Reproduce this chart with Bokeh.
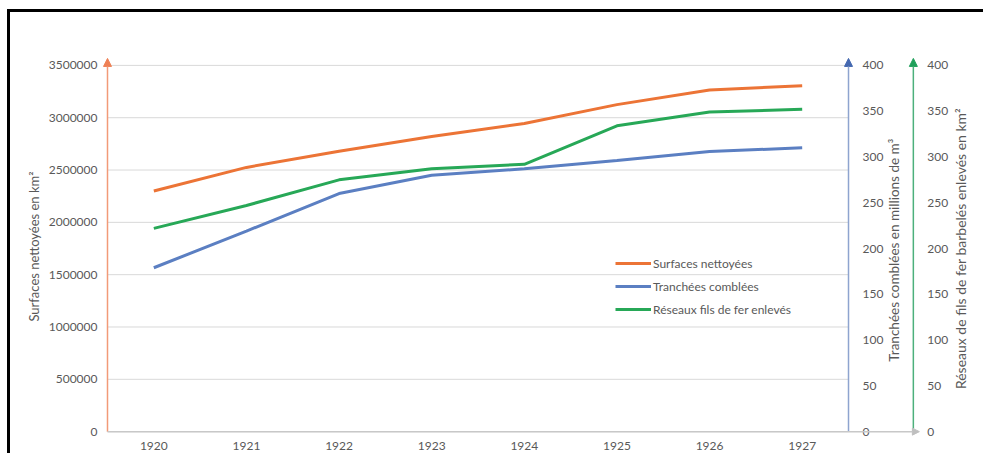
import math
from bokeh.plotting import figure
from bokeh.models import (Range1d, LinearAxis, FixedTicker, Legend, LegendItem,
                          Arrow, NormalHead, BasicTickFormatter, Label)
from bokeh.embed import file_html
from bokeh.resources import INLINE

# ---- data ----
years = [1920, 1921, 1922, 1923, 1924, 1925, 1926, 1927]
surfaces = [2300000, 2525000, 2680000, 2820000, 2945000, 3125000, 3265000, 3305000]
tranchees = [179, 219, 260, 280, 287, 296, 306, 310]
reseaux = [222, 247, 275, 287, 292, 334, 349, 352]
left_ticks = [0, 500000, 1000000, 1500000, 2000000, 2500000, 3000000, 3500000]
right_ticks = [0, 50, 100, 150, 200, 250, 300, 350, 400]

labels = ["Surfaces nettoyées", "Tranchées comblées", "Réseaux fils de fer enlevés"]
left_title = "Surfaces nettoyées en km²"
blue_title = "Tranchées comblées en  millions de m³"
green_title = "Réseaux de fils de fer barbelés enlevés en km²"

# ---- style ----
ORANGE = "#EC7436"
BLUE = "#5B7FC2"
GREEN = "#27A857"
TXT = "#595959"
GRID = "#D9D9D9"
AXGRAY = "#C8C8C8"
L_AX = "#F29A78"
B_AX = "#8EA4CF"
G_AX = "#4DB07C"
FONT = "Lato"

# layout fractions (positions, not data)
PAD_TOP = 0.027    # frame room above the top tick
TIP = 0.019        # arrow tips above the top tick
PAD_BOT = 0.016    # frame room below zero
X_PAD_L = 0.054    # frame room left of the first category
X_GREEN = 0.70     # second right axis, after the category area
X_TIP = 0.765      # x-axis arrow tip
X_BLUE_T = 0.486   # blue axis title
X_GREEN_T = 1.209  # green axis title
X_END = 1.425      # frame end

x0 = years[0] - 0.5
x_blue = years[-1] + 0.5
x_green = x_blue + X_GREEN
ltop = left_ticks[-1]
rtop = right_ticks[-1]

p = figure(width=976, height=444, output_backend="svg", toolbar_location=None,
           x_range=Range1d(x0 - X_PAD_L, x_blue + X_END),
           y_range=Range1d(-PAD_BOT * ltop, (1 + PAD_TOP) * ltop),
           min_border_left=92, min_border_right=6, min_border_top=43,
           min_border_bottom=19, margin=(12, 0, 0, 10))
p.styles = {"box-shadow": "-3px -3px 0 0 black"}
p.outline_line_color = None
p.background_fill_color = "white"
p.border_fill_color = "white"

p.extra_y_ranges = {"blue": Range1d(-PAD_BOT * rtop, (1 + PAD_TOP) * rtop),
                    "green": Range1d(-PAD_BOT * rtop, (1 + PAD_TOP) * rtop)}

# grid limited to the category area
p.xgrid.visible = False
p.ygrid.visible = False
p.segment(x0=[x0] * len(left_ticks), x1=[x_blue] * len(left_ticks),
          y0=left_ticks, y1=left_ticks, line_color=GRID, line_width=1)


def style_axis(ax, standoff):
    ax.axis_line_color = None
    ax.major_tick_line_color = None
    ax.minor_tick_line_color = None
    ax.major_tick_out = 0
    ax.major_tick_in = 0
    ax.minor_tick_out = 0
    ax.major_label_text_font = FONT
    ax.major_label_text_font_size = "12px"
    ax.major_label_text_color = TXT
    ax.major_label_standoff = standoff
    ax.axis_label_text_font = FONT
    ax.axis_label_text_font_size = "13px"
    ax.axis_label_text_font_style = "normal"
    ax.axis_label_text_color = TXT


# x axis
xa = p.xaxis[0]
xa.ticker = FixedTicker(ticks=years)
style_axis(xa, 4)

# left axis
ya = p.yaxis[0]
ya.ticker = FixedTicker(ticks=left_ticks)
ya.formatter = BasicTickFormatter(use_scientific=False)
style_axis(ya, 5)
ya.axis_label = left_title
ya.axis_label_standoff = 4

# two right axes drawn at fixed places
ba = LinearAxis(y_range_name="blue", ticker=FixedTicker(ticks=right_ticks),
                fixed_location=x_blue)
style_axis(ba, 14)
p.add_layout(ba, "right")

ga = LinearAxis(y_range_name="green", ticker=FixedTicker(ticks=right_ticks),
                fixed_location=x_green)
style_axis(ga, 14)
p.add_layout(ga, "right")

# titles of the right axes, reading upwards
for xt, txt, fs in ((x_blue + X_BLUE_T, blue_title, "13.5px"),
                    (x_blue + X_GREEN_T, green_title, "14px")):
    p.add_layout(Label(x=xt, y=rtop / 2, y_range_name="blue", text=txt,
                       angle=math.pi / 2, text_align="center", text_baseline="middle",
                       text_font=FONT, text_font_size=fs, text_color=TXT))

# series
r1 = p.line(years, surfaces, line_color=ORANGE, line_width=3)
r2 = p.line(years, tranchees, line_color=BLUE, line_width=3, y_range_name="blue")
r3 = p.line(years, reseaux, line_color=GREEN, line_width=3, y_range_name="green")

legend = Legend(items=[LegendItem(label=labels[0], renderers=[r1]),
                       LegendItem(label=labels[1], renderers=[r2]),
                       LegendItem(label=labels[2], renderers=[r3])],
                location=(513, 118))
legend.background_fill_alpha = 0
legend.border_line_alpha = 0
legend.padding = 0
legend.margin = 0
legend.spacing = 3
legend.glyph_width = 36
legend.glyph_height = 20
legend.label_height = 20
legend.label_standoff = 2
legend.label_text_font = FONT
legend.label_text_font_size = "12px"
legend.label_text_color = TXT
p.add_layout(legend, "center")

# axis lines with arrow heads
p.add_layout(Arrow(end=NormalHead(size=8, fill_color="#EE8055", line_color="#EE8055"),
                   x_start=x0, y_start=0, x_end=x0, y_end=ltop * (1 + TIP),
                   line_color=L_AX, line_width=1.5))
p.add_layout(Arrow(end=NormalHead(size=8, fill_color="#4468B0", line_color="#4468B0"),
                   x_start=x_blue, y_start=0, x_end=x_blue, y_end=rtop * (1 + TIP),
                   line_color=B_AX, line_width=1.5, y_range_name="blue"))
p.add_layout(Arrow(end=NormalHead(size=8, fill_color="#1FA05A", line_color="#1FA05A"),
                   x_start=x_green, y_start=0, x_end=x_green, y_end=rtop * (1 + TIP),
                   line_color=G_AX, line_width=1.5, y_range_name="green"))
p.add_layout(Arrow(end=NormalHead(size=7, fill_color="#BFBFBF", line_color="#BFBFBF"),
                   x_start=x0, y_start=0, x_end=x_blue + X_TIP, y_end=0,
                   line_color=AXGRAY, line_width=1.5))

open("out.html", "w").write(file_html(p, INLINE))
